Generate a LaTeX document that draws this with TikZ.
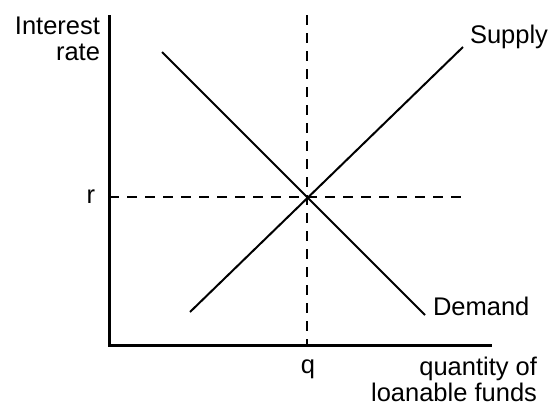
\documentclass[tikz,border=0pt]{standalone}
\usepackage{fontspec}
\setmainfont{Liberation Sans}
\usetikzlibrary{positioning}

\begin{document}
\begin{tikzpicture}[
  x=1pt, y=-1pt,
  line width=2pt,
  axis/.style={draw=black, line width=3pt},
  curve/.style={draw=black, line width=2pt},
  guide/.style={draw=black, line width=2pt, dash pattern=on 10pt off 8pt},
  lbl/.style={inner sep=0pt, font=\fontsize{25.5}{26}\selectfont}
]
  \useasboundingbox (0,0) rectangle (552,407);
  % axes
  \coordinate (origin) at (109,345);
  \coordinate (ytop) at (109,15);
  \coordinate (xend) at (492,345);
  \draw[axis] (ytop) -- (origin) -- (xend);
  % equilibrium and guides
  \coordinate (eq) at (307,197);
  \coordinate (rleft) at (109,197);
  \coordinate (rright) at (462,197);
  \coordinate (qtop) at (307,15);
  \coordinate (qbot) at (307,345);
  \draw[guide] (rleft) -- (rright);
  \draw[guide] (qtop) -- (qbot);
  % demand and supply
  \coordinate (d1) at (162,52);
  \coordinate (d2) at (425,315);
  \coordinate (s1) at (190,312);
  \coordinate (s2) at (463,47);
  \draw[curve] (d1) -- (d2);
  \draw[curve] (s1) -- (s2);
  % labels
  \node[lbl, anchor=north east, align=right] (ylab) at (101,16) {Interest\\rate};
  \node[lbl, anchor=east] (rlab) at (96,197) {r};
  \node[lbl, anchor=north] (qlab) at (308,359) {q};
  \node[lbl, anchor=north east, align=right] (xlab) at (538,356) {quantity of\\loanable funds};
  \node[lbl, anchor=west] (slab) at (469,37) {Supply};
  \node[lbl, anchor=west] (dlab) at (432,306) {Demand};
\end{tikzpicture}
\end{document}
